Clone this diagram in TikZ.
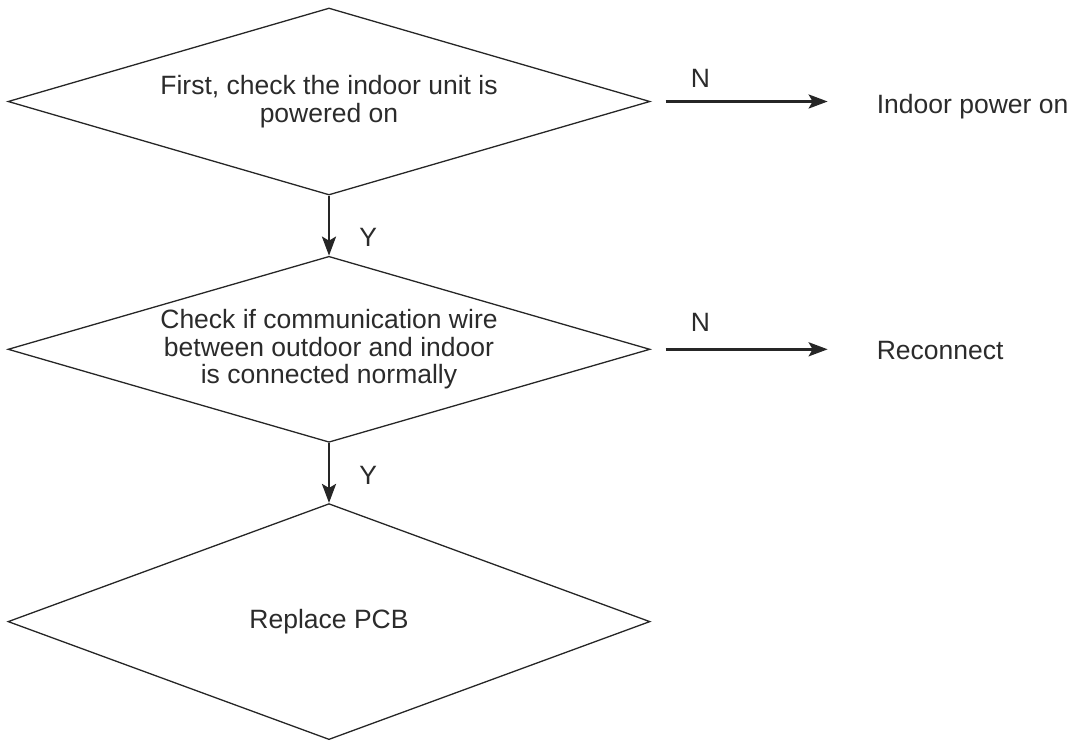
\documentclass[tikz,border=0pt]{standalone}
\usepackage{fontspec}
\setmainfont{Liberation Sans}
\usetikzlibrary{positioning,shapes.geometric,arrows.meta}

\begin{document}
\begin{tikzpicture}[
  x=1pt, y=-1pt,
  font=\fontsize{26.5pt}{27.5pt}\selectfont,
  >={Stealth[length=19pt 0, width=14pt 0, inset=4pt]},
  check/.style 2 args={diamond, draw=linegray, line width=1.3pt, align=center, text=txtgray,
                minimum width=642pt, minimum height=#1, aspect=#2, inner sep=0pt},
  lbl/.style={inner sep=0pt, text=txtgray},
  flow/.style={->, line width=2.8pt, draw=linegray},
]
\definecolor{linegray}{HTML}{262626}
\definecolor{txtgray}{HTML}{2B2B2B}

\useasboundingbox (0,0) rectangle (1075,740);

% ---- decision column ----
\node[check={187pt}{3.43}] (power) at (329,101.5) {First, check the indoor unit is\\powered on};
\node[check={186pt}{3.45}, below=60pt of power] (wire) {Check if communication wire\\between outdoor and indoor\\is connected normally};
\node[check={236pt}{2.72}, below=60pt of wire] (pcb) {Replace PCB};

% ---- outcomes on the right ----
\node[lbl, right=226pt of power.east, yshift=-5.5pt] (poweron) {Indoor power on};
\node[lbl, right=226pt of wire.east, yshift=-1pt] (reconnect) {Reconnect};

% ---- arrows ----
\draw[flow] (power) -- (wire) node[lbl, pos=0.7, right=29pt] (yes1) {Y};
\draw[flow] (wire) -- (pcb) node[lbl, pos=0.54, right=29pt] (yes2) {Y};
\draw[flow, shorten <=15pt, shorten >=49pt] (power.east) -- (power.east -| poweron.west)
  node[lbl, pos=0.22, above=13pt] (no1) {N};
\draw[flow, shorten <=15pt, shorten >=49pt] (wire.east) -- (wire.east -| reconnect.west)
  node[lbl, pos=0.22, above=16pt] (no2) {N};
\end{tikzpicture}
\end{document}
